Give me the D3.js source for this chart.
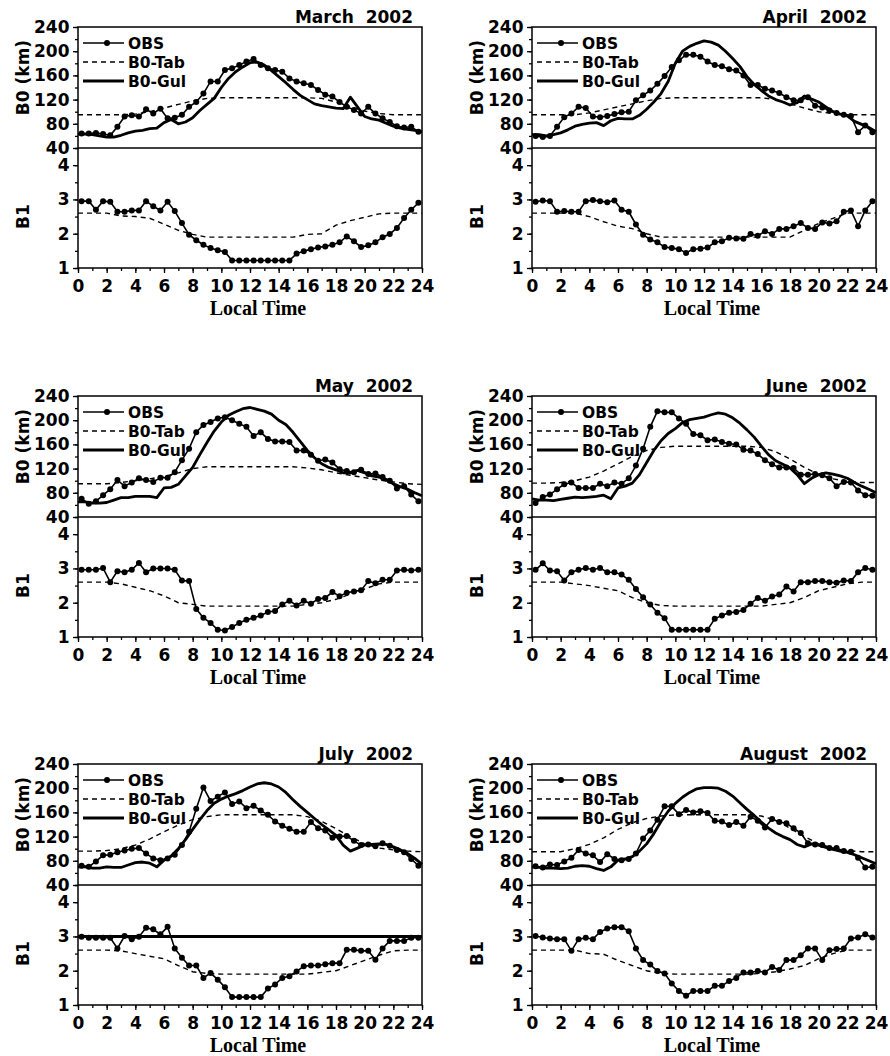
<!DOCTYPE html>
<html>
<head>
<meta charset="utf-8">
<script src="https://cdn.jsdelivr.net/npm/d3@7"></script>
<style>
body { margin: 0; background: #fff; }
</style>
</head>
<body>
<div id="chart"></div>
<script>
var width = 890;
var height = 1056;

var titles = ["March  2002", "April  2002", "May  2002", "June  2002", "July  2002", "August  2002"];
var legendLabels = ["OBS", "B0-Tab", "B0-Gul"];
var b0Ticks = [40, 80, 120, 160, 200, 240];
var b1Ticks = [1, 2, 3, 4];
var hourTicks = [0, 2, 4, 6, 8, 10, 12, 14, 16, 18, 20, 22, 24];

// observation times (half-hourly, centred on the slot)
var obsHours = [0.25, 0.75, 1.25, 1.75, 2.25, 2.75, 3.25, 3.75, 4.25, 4.75, 5.25, 5.75,
	6.25, 6.75, 7.25, 7.75, 8.25, 8.75, 9.25, 9.75, 10.25, 10.75, 11.25, 11.75,
	12.25, 12.75, 13.25, 13.75, 14.25, 14.75, 15.25, 15.75, 16.25, 16.75, 17.25, 17.75,
	18.25, 18.75, 19.25, 19.75, 20.25, 20.75, 21.25, 21.75, 22.25, 22.75, 23.25, 23.75];
var gulHours = [0, 0.5, 1, 1.5, 2, 2.5, 3, 3.5, 4, 4.5, 5, 5.5, 6, 6.5, 7, 7.5, 8, 8.5, 9, 9.5,
	10, 10.5, 11, 11.5, 12, 12.5, 13, 13.5, 14, 14.5, 15, 15.5, 16, 16.5, 17, 17.5, 18, 18.5,
	19, 19.5, 20, 20.5, 21, 21.5, 22, 22.5, 23, 23.5, 24];
var tabHours = [0, 1, 2, 3, 4, 5, 6, 7, 8, 9, 10, 11, 12, 13, 14, 15, 16, 17, 18, 19, 20, 21, 22, 23, 24];

// March
var marB0Obs = [64,64,65,63,61,75,92,94,92,104,97,105,89,90,95,108,116,130,150,150,169,172,177,183,187,177,172,169,166,155,150,147,144,136,128,125,116,108,103,97,108,97,89,83,76,74,75,67];
var marB1Obs = [2.95,2.95,2.7,2.95,2.93,2.64,2.64,2.68,2.68,2.95,2.8,2.68,2.93,2.66,2.31,1.97,1.81,1.68,1.58,1.52,1.47,1.22,1.22,1.22,1.22,1.22,1.22,1.22,1.22,1.22,1.42,1.49,1.55,1.6,1.63,1.68,1.75,1.92,1.78,1.61,1.66,1.75,1.9,1.99,2.17,2.46,2.7,2.9];
var marB0Gul = [63,63,62,60,58,58,61,65,68,69,72,73,82,87,80,83,90,102,112,122,140,155,166,174,181,182,177,168,158,148,137,127,120,113,110,108,106,105,124,108,92,88,86,81,76,73,71,69,67];
var marB0Tab = [95,95,95,95,96,100,106,112,118,122,123,123,123,123,123,123,123,122,116,108,101,97,95,95,95];
var marB1Tab = [2.6,2.6,2.6,2.52,2.5,2.45,2.28,2.1,1.98,1.9,1.9,1.9,1.9,1.9,1.9,1.9,1.98,2.0,2.25,2.38,2.48,2.58,2.6,2.6,2.6];

// April
var aprB0Obs = [60,58,60,75,91,97,108,106,92,91,93,96,99,100,119,127,135,146,159,174,185,194,194,191,183,177,175,170,168,160,144,144,138,135,131,124,119,119,124,110,107,102,98,95,93,66,77,66];
var aprB1Obs = [2.93,2.97,2.95,2.64,2.66,2.64,2.64,2.95,2.98,2.95,2.92,2.97,2.7,2.64,2.27,1.97,1.83,1.75,1.61,1.58,1.55,1.44,1.55,1.56,1.6,1.75,1.78,1.88,1.86,1.85,1.99,1.94,2.07,1.99,2.14,2.14,2.22,2.31,2.17,2.14,2.33,2.3,2.36,2.64,2.68,2.22,2.68,2.95];
var aprB0Gul = [62,62,60,62,65,70,76,79,81,82,77,85,89,88,88,94,104,116,130,150,180,200,208,213,217,215,210,200,188,175,158,145,135,126,120,116,111,115,126,121,116,108,100,96,93,84,79,74,67];
var aprB0Tab = [95,95,95,95,98,103,108,113,118,122,123,123,123,123,123,123,123,120,113,106,100,97,95,95,95];
var aprB1Tab = [2.6,2.6,2.6,2.6,2.5,2.35,2.22,2.15,2.0,1.9,1.9,1.9,1.9,1.9,1.9,1.9,1.9,1.9,1.9,2.1,2.3,2.45,2.6,2.6,2.6];

// May
var mayB0Obs = [70,62,66,76,86,101,91,97,104,101,98,105,105,114,134,153,180,192,197,203,205,200,194,189,174,180,169,165,165,164,150,150,143,133,135,130,119,116,114,118,111,112,106,100,87,91,77,66];
var mayB1Obs = [2.96,2.96,2.96,3.01,2.6,2.92,2.89,2.96,3.16,2.89,3.0,3.0,3.0,2.96,2.65,2.63,1.82,1.56,1.41,1.21,1.19,1.29,1.41,1.5,1.56,1.63,1.73,1.76,1.95,2.06,1.92,2.06,1.97,2.11,2.14,2.31,2.19,2.29,2.33,2.36,2.63,2.57,2.67,2.67,2.94,2.96,2.94,2.96];
var mayB0Gul = [65,65,63,63,64,68,72,72,74,74,74,72,88,89,94,108,122,143,163,182,197,208,214,219,221,218,215,210,200,193,180,165,150,138,128,122,118,113,113,117,113,108,106,101,95,90,86,80,75];
var mayB0Tab = [95,95,95,97,100,103,107,113,120,123,123,123,123,123,123,123,121,118,113,109,105,101,98,95,94];
var mayB1Tab = [2.6,2.6,2.6,2.55,2.45,2.35,2.2,2.0,1.95,1.9,1.9,1.9,1.9,1.9,1.9,1.9,1.95,2.0,2.1,2.25,2.4,2.55,2.6,2.6,2.6];

// June
var junB0Obs = [63,73,77,86,94,97,88,88,88,95,91,97,95,104,125,153,189,215,213,213,203,194,177,175,167,168,164,161,160,151,150,144,134,127,122,122,121,110,110,111,109,104,91,98,97,84,76,75];
var junB1Obs = [2.96,3.15,2.94,2.92,2.65,2.89,2.96,3.01,2.96,3.01,2.89,2.89,2.82,2.67,2.4,2.16,1.95,1.71,1.55,1.21,1.21,1.21,1.21,1.21,1.21,1.53,1.63,1.71,1.73,1.79,1.97,2.14,2.06,2.18,2.24,2.47,2.33,2.6,2.6,2.63,2.63,2.6,2.58,2.65,2.63,2.89,3.01,2.96];
var junB0Gul = [70,68,68,67,69,71,73,72,73,74,76,70,88,91,96,110,130,150,166,178,186,196,201,203,205,209,212,210,204,195,184,172,157,143,133,127,121,110,95,104,110,113,111,108,104,97,91,86,80];
var junB0Tab = [96,96,97,100,106,116,128,140,150,155,157,157,157,157,157,157,155,148,136,122,110,103,99,97,97];
var junB1Tab = [2.6,2.6,2.6,2.55,2.5,2.42,2.35,2.15,2.0,1.92,1.9,1.9,1.9,1.9,1.9,1.9,1.9,1.95,2.0,2.15,2.35,2.45,2.55,2.6,2.6];

// July
var julB0Obs = [72,70,79,89,90,94,97,100,101,92,84,81,84,90,106,128,166,201,179,186,193,174,178,167,171,163,156,145,138,133,128,128,144,134,130,118,120,121,113,106,107,104,109,105,98,94,83,72];
var julB1Obs = [2.99,2.96,2.96,2.96,2.96,2.65,3.01,2.92,2.99,3.25,3.21,3.06,3.28,2.65,2.38,2.15,2.15,1.79,1.93,1.74,1.52,1.23,1.23,1.23,1.23,1.23,1.48,1.6,1.79,1.84,1.98,2.13,2.15,2.15,2.19,2.22,2.22,2.61,2.61,2.58,2.58,2.32,2.65,2.87,2.87,2.87,2.96,2.96];
var julB0Gul = [70,70,68,68,70,69,69,73,77,78,76,70,81,88,100,115,132,148,163,175,182,187,191,196,202,207,209,207,202,193,181,170,160,150,140,131,122,106,96,101,106,107,108,107,103,98,92,84,74];
var julB0Tab = [96,96,97,100,106,116,128,139,148,153,156,156,156,156,156,156,153,145,133,120,108,101,98,96,95];
var julB1Tab = [2.6,2.6,2.6,2.58,2.5,2.42,2.35,2.15,1.97,1.92,1.9,1.9,1.9,1.9,1.9,1.9,1.9,1.95,2.0,2.15,2.3,2.45,2.58,2.6,2.6];
var julB1GulHours = [0, 24];
var julB1Gul = [3, 3];

// August
var augB0Obs = [71,69,74,73,79,85,98,92,89,78,91,83,81,83,92,117,130,148,170,170,157,164,160,162,159,146,145,139,144,138,153,146,135,149,144,142,134,126,109,107,106,101,101,96,95,85,69,70];
var augB1Obs = [3.01,2.97,2.94,2.92,2.92,2.58,2.92,2.96,2.92,3.13,3.23,3.27,3.27,3.15,2.65,2.31,2.18,1.99,1.92,1.63,1.41,1.27,1.41,1.41,1.41,1.56,1.56,1.7,1.79,1.95,1.95,1.99,1.95,2.11,2.02,2.31,2.31,2.45,2.65,2.65,2.31,2.6,2.63,2.65,2.94,2.97,3.06,2.97];
var augB0Gul = [70,69,68,68,67,68,71,72,71,67,64,70,81,83,87,96,108,125,145,162,175,185,193,199,201,201,200,195,187,176,165,155,144,134,126,120,115,107,103,108,106,102,99,96,94,90,85,80,75];
var augB0Tab = [95,95,95,100,107,118,132,143,150,154,156,156,156,156,156,156,154,147,134,120,108,101,97,95,95];
var augB1Tab = [2.6,2.6,2.6,2.6,2.5,2.48,2.3,2.15,2.0,1.92,1.9,1.9,1.9,1.9,1.9,1.9,1.92,1.97,2.05,2.15,2.35,2.5,2.6,2.6,2.6];

function pairs(xs, ys) {
	return ys.map(function(v, i) { return [xs[i], v]; });
}

var panels = [
	{ title: titles[0], b0Obs: marB0Obs, b1Obs: marB1Obs, b0Gul: marB0Gul, b0Tab: marB0Tab, b1Tab: marB1Tab },
	{ title: titles[1], b0Obs: aprB0Obs, b1Obs: aprB1Obs, b0Gul: aprB0Gul, b0Tab: aprB0Tab, b1Tab: aprB1Tab },
	{ title: titles[2], b0Obs: mayB0Obs, b1Obs: mayB1Obs, b0Gul: mayB0Gul, b0Tab: mayB0Tab, b1Tab: mayB1Tab },
	{ title: titles[3], b0Obs: junB0Obs, b1Obs: junB1Obs, b0Gul: junB0Gul, b0Tab: junB0Tab, b1Tab: junB1Tab },
	{ title: titles[4], b0Obs: julB0Obs, b1Obs: julB1Obs, b0Gul: julB0Gul, b0Tab: julB0Tab, b1Tab: julB1Tab, b1Gul: pairs(julB1GulHours, julB1Gul) },
	{ title: titles[5], b0Obs: augB0Obs, b1Obs: augB1Obs, b0Gul: augB0Gul, b0Tab: augB0Tab, b1Tab: augB1Tab }
];

var colLeft = [78, 532];
var rowTop = [27, 396, 764];
var plotW = 344;
var b0H = 121;
var b1H = 120;

var svg = d3.select("#chart")
	.append("svg")
	.attr("width", width)
	.attr("height", height)
	.style("background", "#fff");

var x = d3.scaleLinear().domain([0, 24]).range([0, plotW]);
var yB0 = d3.scaleLinear().domain([40, 240]).range([b0H, 0]);
var yB1 = d3.scaleLinear().domain([1, 4.5]).range([b0H + b1H, b0H]);

var lineB0 = d3.line()
	.x(function(d) { return x(d[0]); })
	.y(function(d) { return yB0(d[1]); });
var lineB1 = d3.line()
	.x(function(d) { return x(d[0]); })
	.y(function(d) { return yB1(d[1]); });

var boldFont = "DejaVu Sans";

function styleAxis(g) {
	g.attr("font-family", boldFont).attr("font-weight", "bold").attr("font-size", 17);
	g.select(".domain").remove();
	g.selectAll("line").attr("stroke", "#000").attr("stroke-width", 1.3);
	g.selectAll("text").attr("fill", "#000");
}

panels.forEach(function(p, i) {
	var g = svg.append("g")
		.attr("transform", "translate(" + colLeft[i % 2] + "," + rowTop[Math.floor(i / 2)] + ")");

	// minor ticks
	g.append("g").attr("transform", "translate(0," + (b0H + b1H) + ")")
		.call(d3.axisBottom(x).tickValues(tabHours).tickSize(3).tickFormat(""))
		.call(styleAxis);
	g.append("g")
		.call(d3.axisLeft(yB0).tickValues(d3.range(40, 241, 20)).tickSize(3).tickFormat(""))
		.call(styleAxis);
	g.append("g")
		.call(d3.axisLeft(yB1).tickValues(d3.range(1, 4.51, 0.5)).tickSize(3).tickFormat(""))
		.call(styleAxis);

	// major ticks + labels
	var xAxis = g.append("g").attr("transform", "translate(0," + (b0H + b1H) + ")")
		.call(d3.axisBottom(x).tickValues(hourTicks).tickSize(5).tickPadding(4))
		.call(styleAxis);
	xAxis.selectAll("text").attr("y", 12).attr("dy", "0.71em");

	g.append("g")
		.call(d3.axisLeft(yB0).tickValues(b0Ticks).tickSize(5).tickPadding(3.5).tickFormat(d3.format("d")))
		.call(styleAxis);
	g.append("g")
		.call(d3.axisLeft(yB1).tickValues(b1Ticks).tickSize(5).tickPadding(3.5).tickFormat(d3.format("d")))
		.call(styleAxis);

	// frame
	g.append("rect")
		.attr("width", plotW)
		.attr("height", b0H + b1H)
		.attr("fill", "none")
		.attr("stroke", "#000")
		.attr("stroke-width", 1.5);
	g.append("line")
		.attr("x1", 0).attr("x2", plotW)
		.attr("y1", b0H).attr("y2", b0H)
		.attr("stroke", "#000")
		.attr("stroke-width", 1.5);

	// B0 lines
	g.append("path")
		.attr("d", lineB0(pairs(tabHours, p.b0Tab)))
		.attr("fill", "none").attr("stroke", "#000")
		.attr("stroke-width", 1.4).attr("stroke-dasharray", "5,4");
	g.append("path")
		.attr("d", lineB0(pairs(gulHours, p.b0Gul)))
		.attr("fill", "none").attr("stroke", "#000")
		.attr("stroke-width", 2.8).attr("stroke-linejoin", "round");
	g.append("path")
		.attr("d", lineB0(pairs(obsHours, p.b0Obs)))
		.attr("fill", "none").attr("stroke", "#000").attr("stroke-width", 1.6);
	g.selectAll(".dot0")
		.data(pairs(obsHours, p.b0Obs))
		.enter()
		.append("circle")
		.attr("class", "dot0")
		.attr("cx", function(d) { return x(d[0]); })
		.attr("cy", function(d) { return yB0(d[1]); })
		.attr("r", 3)
		.attr("fill", "#000");

	// B1 lines
	g.append("path")
		.attr("d", lineB1(pairs(tabHours, p.b1Tab)))
		.attr("fill", "none").attr("stroke", "#000")
		.attr("stroke-width", 1.4).attr("stroke-dasharray", "5,4");
	if (p.b1Gul) {
		g.append("path")
			.attr("d", lineB1(p.b1Gul))
			.attr("fill", "none").attr("stroke", "#000").attr("stroke-width", 3);
	}
	g.append("path")
		.attr("d", lineB1(pairs(obsHours, p.b1Obs)))
		.attr("fill", "none").attr("stroke", "#000").attr("stroke-width", 1.6);
	g.selectAll(".dot1")
		.data(pairs(obsHours, p.b1Obs))
		.enter()
		.append("circle")
		.attr("class", "dot1")
		.attr("cx", function(d) { return x(d[0]); })
		.attr("cy", function(d) { return yB1(d[1]); })
		.attr("r", 3)
		.attr("fill", "#000");

	// legend
	var legend = g.selectAll(".legend")
		.data(legendLabels)
		.enter()
		.append("g")
		.attr("class", "legend")
		.attr("transform", function(d, k) { return "translate(5," + (16 + k * 19) + ")"; });
	legend.append("line")
		.attr("x1", 0).attr("x2", 41).attr("y1", 0).attr("y2", 0)
		.attr("stroke", "#000")
		.attr("stroke-width", function(d, k) { return k == 2 ? 2.8 : (k == 0 ? 1.6 : 1.4); })
		.attr("stroke-dasharray", function(d, k) { return k == 1 ? "5,4" : null; });
	legend.filter(function(d, k) { return k == 0; })
		.append("circle").attr("cx", 24).attr("r", 3).attr("fill", "#000");
	legend.append("text")
		.attr("x", 45)
		.attr("dy", "0.36em")
		.attr("font-family", boldFont).attr("font-weight", "bold").attr("font-size", 15.5)
		.text(function(d) { return d; });

	// titles and axis labels
	g.append("text")
		.attr("x", plotW - 9).attr("y", -4)
		.attr("text-anchor", "end")
		.style("white-space", "pre")
		.attr("font-family", boldFont).attr("font-weight", "bold").attr("font-size", 17)
		.text(p.title);
	g.append("text")
		.attr("transform", "translate(-49," + (b0H / 2 - 10) + ") rotate(-90)")
		.attr("text-anchor", "middle")
		.attr("font-family", boldFont).attr("font-weight", "bold").attr("font-size", 17)
		.text("B0 (km)");
	g.append("text")
		.attr("transform", "translate(-49," + yB1(2.5) + ") rotate(-90)")
		.attr("text-anchor", "middle")
		.attr("font-family", boldFont).attr("font-weight", "bold").attr("font-size", 17)
		.text("B1");
	g.append("text")
		.attr("x", plotW / 2 + 8).attr("y", b0H + b1H + 47)
		.attr("text-anchor", "middle")
		.attr("font-family", "Liberation Serif").attr("font-weight", "bold").attr("font-size", 20)
		.text("Local Time");
});
</script>
</body>
</html>
